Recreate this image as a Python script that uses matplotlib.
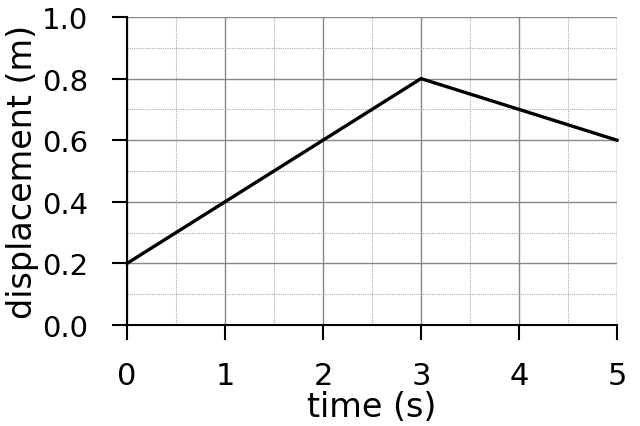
import matplotlib
matplotlib.use("Agg")
import matplotlib.pyplot as plt
from matplotlib.ticker import MultipleLocator

time_s = [0, 1, 2, 3, 4, 5]
displacement_m = [0.2, 0.4, 0.6, 0.8, 0.7, 0.6]
x_ticks = [0, 1, 2, 3, 4, 5]
y_ticks = [0.0, 0.2, 0.4, 0.6, 0.8, 1.0]
y_ticklabels = ["0.0", "0.2", "0.4", "0.6", "0.8", "1.0"]

plt.rcParams['font.family'] = ['DejaVu Sans']

fig = plt.figure(figsize=(6.4, 4.27), dpi=100)
ax = fig.add_axes([127/640, 1-326/427, (617-127)/640, (326-18)/427])

ax.plot(time_s, displacement_m, color='black', linewidth=2.4, solid_joinstyle='miter', zorder=3, clip_on=False)

ax.set_xlim(0, 5)
ax.set_ylim(0, 1.0)
ax.set_xticks(x_ticks)
ax.set_yticks(y_ticks)
ax.set_yticklabels(y_ticklabels)
ax.xaxis.set_minor_locator(MultipleLocator(0.5))
ax.yaxis.set_minor_locator(MultipleLocator(0.1))

ax.grid(which='major', color='#888888', linewidth=1.0, linestyle='-')
ax.grid(which='minor', color='#aaaaaa', linewidth=0.8, linestyle=(0, (1, 1)))
ax.set_axisbelow(True)

for s in ['top', 'right']:
    ax.spines[s].set_visible(False)
for s in ['left', 'bottom']:
    ax.spines[s].set_color('black')
    ax.spines[s].set_linewidth(1.5)

ax.tick_params(which='major', direction='out', length=11, width=1.5, labelsize=22, color='black')
ax.tick_params(axis='x', which='major', pad=15)
ax.tick_params(axis='y', which='major', pad=17, labelsize=21)
ax.tick_params(which='minor', length=0)

ax.set_xlabel('time (s)', fontsize=24, labelpad=0)
ax.set_ylabel('displacement (m)', fontsize=24, labelpad=2)

fig.savefig('out.png', dpi=100)
